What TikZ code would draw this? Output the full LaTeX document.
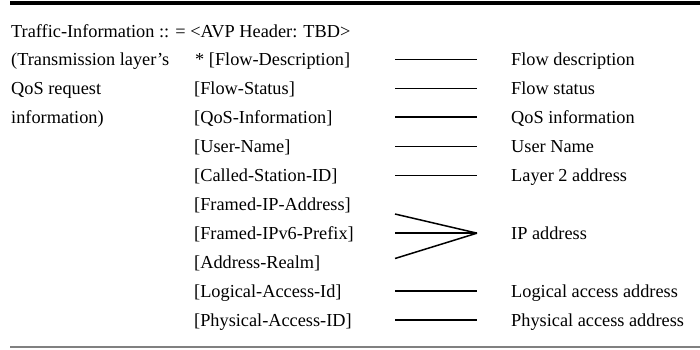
\documentclass[tikz,border=0pt]{standalone}
\usepackage{fontspec}
\setmainfont{Liberation Serif}
\begin{document}
\begin{tikzpicture}[x=1pt,y=-1pt,
  txt/.style={anchor=base west, inner sep=0pt, font=\fontsize{18.3}{22}\selectfont},
  link/.style={line width=1.5pt, line cap=butt},
  boldlink/.style={line width=2.1pt, line cap=butt}]
\useasboundingbox (0,0) rectangle (700,349);
% row pitch and baseline of the first row
\def\pitch{28.95}
\def\base{37}
\newcommand{\ry}[1]{\base+\pitch*#1}
\newcommand{\ly}[1]{\base-6.5+\pitch*#1}

% rules above and below the table
\draw[line width=4pt] (10,3) -- (700,3);
\draw[line width=1.3pt, gray] (10,347) -- (700,347);

% first column
\node[txt] (hdr) at (11,{\ry{0}}) {Traffic-Information :: = <AVP Header: TBD>};
\node[txt] (d1) at (11,{\ry{1}}) {(Transmission layer’s};
\node[txt] (d2) at (11,{\ry{2}}) {QoS request};
\node[txt] (d3) at (11,{\ry{3}}) {information)};

% attribute column
\node[txt] (a1) at (195,{\ry{1}}) {* [Flow-Description]};
\node[txt] (a2) at (194,{\ry{2}}) {[Flow-Status]};
\node[txt] (a3) at (194,{\ry{3}}) {[QoS-Information]};
\node[txt] (a4) at (194,{\ry{4}}) {[User-Name]};
\node[txt] (a5) at (194,{\ry{5}}) {[Called-Station-ID]};
\node[txt] (a6) at (194,{\ry{6}}) {[Framed-IP-Address]};
\node[txt] (a7) at (194,{\ry{7}}) {[Framed-IPv6-Prefix]};
\node[txt] (a8) at (194,{\ry{8}}) {[Address-Realm]};
\node[txt] (a9) at (194,{\ry{9}}) {[Logical-Access-Id]};
\node[txt] (a10) at (194,{\ry{10}}) {[Physical-Access-ID]};

% meaning column
\node[txt] (m1) at (511,{\ry{1}}) {Flow description};
\node[txt] (m2) at (511,{\ry{2}}) {Flow status};
\node[txt] (m3) at (511,{\ry{3}}) {QoS information};
\node[txt] (m4) at (511,{\ry{4}}) {User Name};
\node[txt] (m5) at (511,{\ry{5}}) {Layer 2 address};
\node[txt] (m7) at (511,{\ry{7}}) {IP address};
\node[txt] (m9) at (511,{\ry{9}}) {Logical access address};
\node[txt] (m10) at (511,{\ry{10}}) {Physical access address};

% connector end points
\foreach \k in {1,2,3,4,5,9,10} {
  \coordinate (s\k) at (395,{\ly{\k}});
  \coordinate (e\k) at (477,{\ly{\k}});
}
\coordinate (s6) at (395,214);
\coordinate (s7) at (395,{\ly{7}});
\coordinate (s8) at (395,258.5);
\coordinate (ip) at (477,{\ly{7}});

\draw[link] (s1) -- (e1);
\draw[link] (s2) -- (e2);
\draw[boldlink] (s3) -- (e3);
\draw[link] (s4) -- (e4);
\draw[link] (s5) -- (e5);
\draw[link] (s6) -- (ip);
\draw[link] (s7) -- (ip);
\draw[link] (s8) -- (ip);
\draw[link] (s9) -- (e9);
\draw[boldlink] (s10) -- (e10);
\end{tikzpicture}
\end{document}
